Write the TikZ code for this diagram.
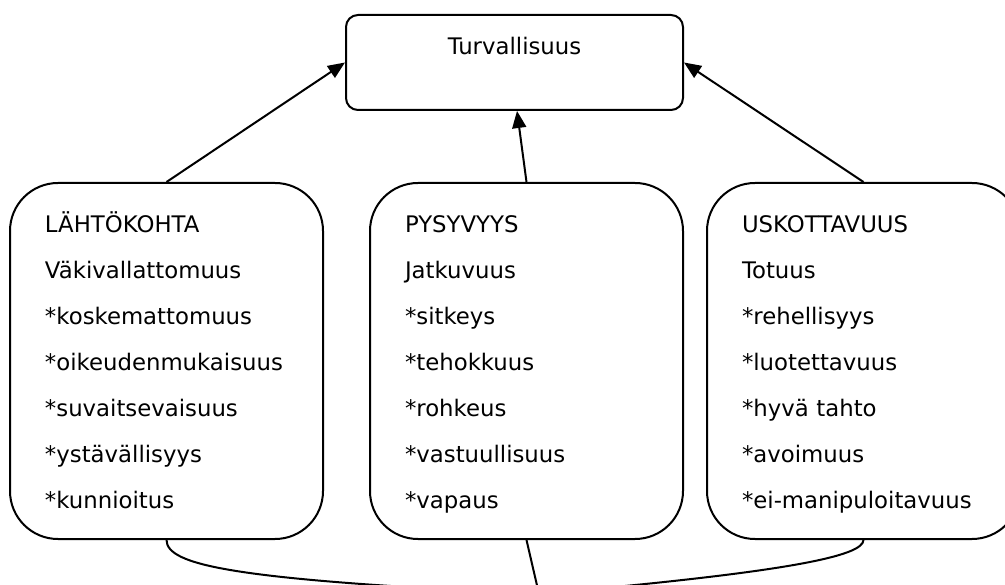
\documentclass[tikz,border=0pt]{standalone}
\usepackage{fontspec}
\setmainfont{DejaVu Sans}
\usetikzlibrary{arrows.meta}
\begin{document}
\begin{tikzpicture}[x=1pt,y=-1pt,
  line width=2pt,
  valuebox/.style={draw, rectangle, rounded corners=48pt,
    minimum width=313pt, minimum height=356pt, text width=243pt,
    inner xsep=35pt, inner ysep=0pt, align=left,
    font=\fontsize{22.8pt}{46pt}\selectfont,
    execute at begin node=\strut, execute at end node=\strut},
  topbox/.style={draw, rectangle, rounded corners=12pt,
    minimum width=337pt, minimum height=95pt, inner sep=0pt,
    text height=16pt, text depth=31pt,
    font=\fontsize{22.8pt}{27pt}\selectfont},
  arr/.style={-{Triangle[length=17pt,width=14pt]}},
  link/.style={line width=2pt}]
\useasboundingbox (0,0) rectangle (1005,585);
\clip (0,0) rectangle (1005,585);

\node[topbox] (top) at (514.5,62.5) {Turvallisuus};

\node[valuebox] (left) at (166.5,361) {LÄHTÖKOHTA\\Väkivallattomuus\\{*}koskemattomuus\\{*}oikeudenmukaisuus\\{*}suvaitsevaisuus\\{*}ystävällisyys\\{*}kunnioitus};
\node[valuebox] (mid) at (526.5,361) {PYSYVYYS\\Jatkuvuus\\{*}sitkeys\\{*}tehokkuus\\{*}rohkeus\\{*}vastuullisuus\\{*}vapaus};
\node[valuebox] (right) at (863.5,361) {USKOTTAVUUS\\Totuus\\{*}rehellisyys\\{*}luotettavuus\\{*}hyvä tahto\\{*}avoimuus\\{*}ei-manipuloitavuus};

\draw[arr] (left.north) -- (top.west);
\draw[arr] (mid.north) -- ([xshift=2.5pt]top.south);
\draw[arr] (right.north) -- (top.east);

\coordinate (join) at (539,594);
\draw[link] (left.south) .. controls (167,565) and (230,580) .. (join);
\draw[link] (mid.south) -- (join);
\draw[link] (right.south) .. controls (863,556) and (790,572) .. (join);
\end{tikzpicture}
\end{document}
